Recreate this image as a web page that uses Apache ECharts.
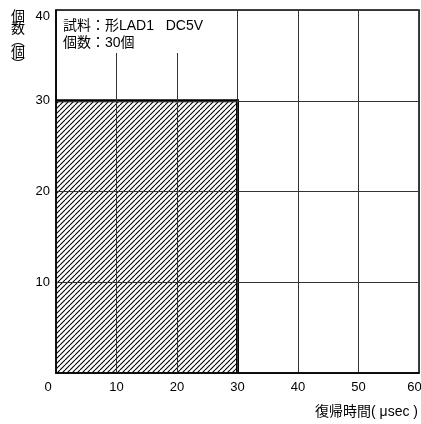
<!DOCTYPE html>
<html>
<head>
<meta charset="utf-8">
<script src="https://cdn.jsdelivr.net/npm/echarts@6/dist/echarts.min.js"></script>
<style>
  html, body { margin: 0; padding: 0; background: #fff; }
  #chart { width: 421px; height: 424px; }
</style>
</head>
<body>
<div id="chart"></div>
<script>
// histogram bins: start / end of recovery time (μsec) and count in each bin
const binStart = [0]
const binEnd = [30]
const binCount = [30]

const xTicks = [0, 10, 20, 30, 40, 50, 60]
const yTicks = [0, 10, 20, 30, 40]

const noteLines = ['試料：形LAD1   DC5V', '個数：30個']
const xName = '復帰時間( μsec )'
const yName = '個\n数\n︵\n個\n︶'

const font = '"Liberation Sans", Arial, "Noto Sans CJK JP", sans-serif'

// diagonal hatch tile
function hatch() {
  const w = 5, h = 5
  const c = document.createElement('canvas')
  c.width = w
  c.height = h
  const ctx = c.getContext('2d')
  ctx.fillStyle = '#fff'
  ctx.fillRect(0, 0, w, h)
  ctx.strokeStyle = '#000'
  ctx.lineWidth = 1.1
  for (const dx of [-w, 0, w]) {
    ctx.beginPath()
    ctx.moveTo(dx, h)
    ctx.lineTo(dx + w, 0)
    ctx.stroke()
  }
  return c
}

const chart = echarts.init(document.getElementById('chart'))
const pattern = { image: hatch(), repeat: 'repeat' }

chart.setOption({
  animation: false,
  textStyle: { fontFamily: font },
  grid: {
    left: 56, right: 2, top: 10, bottom: 51,
    containLabel: false, outerBoundsMode: 'none',
    show: true, borderColor: '#000', borderWidth: 1.5
  },
  xAxis: {
    type: 'value',
    min: xTicks[0],
    max: xTicks[xTicks.length - 1],
    interval: 10,
    axisLine: { show: true, lineStyle: { color: '#000', width: 1.5 } },
    axisTick: { show: false },
    axisLabel: {
      color: '#000', fontSize: 13, margin: 8,
      formatter: (v) => v === 0 ? '{z|0}' : v === 60 ? '{e|60}' : String(v),
      rich: {
        z: { padding: [0, 16, 0, 0], fontSize: 13, color: '#000' },
        e: { padding: [0, 9, 0, 0], fontSize: 13, color: '#000' }
      }
    },
    splitLine: { show: true, lineStyle: { color: '#333', width: 1 } }
  },
  yAxis: {
    type: 'value',
    min: yTicks[0],
    max: yTicks[yTicks.length - 1],
    interval: 10,
    axisLine: { show: true, lineStyle: { color: '#000', width: 1.5 } },
    axisTick: { show: false },
    axisLabel: {
      color: '#000', fontSize: 13, margin: 6,
      formatter: (v) => v === 0 ? '' : v === 40 ? '{t|40}' : String(v),
      rich: { t: { padding: [12, 0, 0, 0], fontSize: 13, color: '#000' } }
    },
    splitLine: { show: true, lineStyle: { color: '#333', width: 1 } }
  },
  series: [{
    type: 'custom',
    z: -1,
    data: binStart.map((s, i) => [s, binEnd[i], binCount[i]]),
    renderItem: (params, api) => {
      const tl = api.coord([api.value(0), api.value(2)])
      const br = api.coord([api.value(1), 0])
      return {
        type: 'group',
        children: [
          { type: 'rect', shape: { x: tl[0], y: tl[1], width: br[0] - tl[0], height: br[1] - tl[1] }, style: { fill: pattern } },
          { type: 'line', shape: { x1: tl[0], y1: tl[1], x2: br[0], y2: tl[1] }, style: { stroke: '#000', lineWidth: 3 } },
          { type: 'line', shape: { x1: br[0], y1: tl[1] - 1.5, x2: br[0], y2: br[1] }, style: { stroke: '#000', lineWidth: 3 } }
        ]
      }
    }
  }],
  graphic: [
    { type: 'rect', left: 57, top: 11, shape: { width: 172, height: 42 }, style: { fill: '#fff' }, z: 10 },
    { type: 'text', left: 63, top: 18, z: 11, style: { text: noteLines.join('\n'), font: '14px ' + font, lineHeight: 17, fill: '#000' } },
    { type: 'text', left: 11, top: 10, z: 11, style: { text: yName, font: '14px ' + font, lineHeight: 12, fill: '#000' } },
    { type: 'text', right: 3, top: 405, z: 11, style: { text: xName, font: '14px ' + font, fill: '#000' } }
  ]
})
</script>
</body>
</html>
